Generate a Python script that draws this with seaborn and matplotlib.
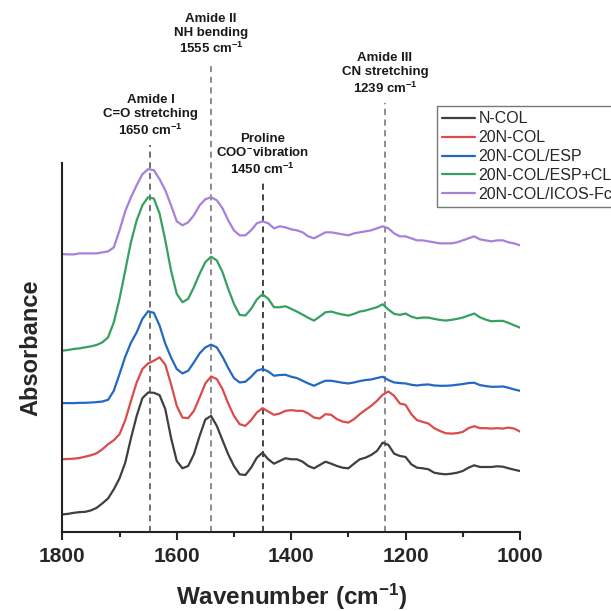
import numpy as np
import pandas as pd
import matplotlib
matplotlib.use("Agg")
import matplotlib.pyplot as plt
import seaborn as sns

# --- DATA (a.u. with stacking offsets) ---
wavenumber = list(range(1800, 990, -10))

n_col = [0.177, 0.183, 0.193, 0.200, 0.203, 0.217, 0.243, 0.287, 0.337, 0.427,
         0.537, 0.693, 0.937, 1.160, 1.337, 1.393, 1.390, 1.367, 1.227, 0.943,
         0.710, 0.637, 0.660, 0.777, 0.960, 1.123, 1.160, 1.060, 0.917, 0.777,
         0.660, 0.577, 0.570, 0.643, 0.743, 0.793, 0.727, 0.683, 0.710, 0.737,
         0.727, 0.727, 0.703, 0.660, 0.637, 0.670, 0.703, 0.683, 0.660, 0.643,
         0.637, 0.683, 0.727, 0.743, 0.770, 0.810, 0.893, 0.870, 0.783, 0.760,
         0.750, 0.677, 0.643, 0.637, 0.627, 0.593, 0.583, 0.577, 0.583, 0.593,
         0.610, 0.643, 0.667, 0.650, 0.650, 0.650, 0.657, 0.653, 0.637, 0.623,
         0.610]

col_20n = [0.727, 0.730, 0.733, 0.740, 0.753, 0.767, 0.787, 0.827, 0.877, 0.917,
           0.977, 1.117, 1.310, 1.493, 1.627, 1.683, 1.710, 1.743, 1.670, 1.477,
           1.260, 1.143, 1.137, 1.210, 1.343, 1.483, 1.553, 1.527, 1.427, 1.283,
           1.160, 1.077, 1.060, 1.117, 1.193, 1.237, 1.203, 1.170, 1.183, 1.210,
           1.217, 1.210, 1.210, 1.183, 1.143, 1.133, 1.177, 1.170, 1.127, 1.103,
           1.093, 1.127, 1.177, 1.220, 1.260, 1.310, 1.370, 1.403, 1.360, 1.283,
           1.270, 1.177, 1.117, 1.100, 1.083, 1.037, 1.010, 0.987, 0.983, 0.987,
           1.000, 1.037, 1.057, 1.037, 1.037, 1.033, 1.037, 1.033, 1.043, 1.033,
           1.003]

col_esp = [1.287, 1.287, 1.287, 1.290, 1.290, 1.293, 1.297, 1.303, 1.320, 1.410,
           1.577, 1.750, 1.890, 1.993, 2.127, 2.203, 2.187, 2.060, 1.880, 1.743,
           1.627, 1.583, 1.610, 1.693, 1.783, 1.843, 1.870, 1.843, 1.750, 1.637,
           1.537, 1.493, 1.500, 1.550, 1.610, 1.627, 1.603, 1.560, 1.567, 1.570,
           1.550, 1.537, 1.510, 1.483, 1.460, 1.487, 1.510, 1.510, 1.500, 1.490,
           1.483, 1.493, 1.507, 1.517, 1.523, 1.537, 1.550, 1.517, 1.493, 1.487,
           1.483, 1.470, 1.463, 1.470, 1.473, 1.463, 1.460, 1.460, 1.463, 1.470,
           1.477, 1.487, 1.490, 1.467, 1.457, 1.450, 1.450, 1.453, 1.440, 1.423,
           1.410]

col_esp_cl = [1.810, 1.817, 1.827, 1.833, 1.843, 1.853, 1.867, 1.893, 1.943, 2.093,
              2.327, 2.610, 2.893, 3.110, 3.260, 3.340, 3.327, 3.177, 2.910, 2.610,
              2.377, 2.293, 2.327, 2.443, 2.577, 2.693, 2.747, 2.710, 2.593, 2.427,
              2.277, 2.167, 2.160, 2.227, 2.320, 2.373, 2.327, 2.243, 2.243, 2.253,
              2.227, 2.200, 2.170, 2.137, 2.110, 2.150, 2.193, 2.200, 2.183, 2.170,
              2.160, 2.177, 2.200, 2.210, 2.227, 2.243, 2.273, 2.220, 2.177, 2.167,
              2.180, 2.150, 2.133, 2.140, 2.140, 2.127, 2.117, 2.110, 2.117, 2.127,
              2.140, 2.160, 2.180, 2.143, 2.120, 2.103, 2.107, 2.107, 2.087, 2.063,
              2.040]

col_icos = [2.773, 2.770, 2.770, 2.780, 2.780, 2.780, 2.780, 2.790, 2.800, 2.840,
            3.010, 3.200, 3.340, 3.460, 3.570, 3.620, 3.610, 3.520, 3.410, 3.260,
            3.100, 3.060, 3.090, 3.160, 3.260, 3.320, 3.340, 3.310, 3.230, 3.110,
            3.010, 2.960, 2.960, 3.010, 3.080, 3.100, 3.080, 3.030, 3.050, 3.040,
            3.020, 3.010, 2.990, 2.950, 2.930, 2.960, 2.990, 2.990, 2.980, 2.970,
            2.960, 2.980, 2.990, 3.000, 3.010, 3.030, 3.050, 3.030, 2.980, 2.950,
            2.950, 2.930, 2.910, 2.910, 2.900, 2.890, 2.880, 2.880, 2.880, 2.890,
            2.910, 2.930, 2.950, 2.920, 2.910, 2.900, 2.910, 2.910, 2.890, 2.880,
            2.860]

samples = ["N-COL", "20N-COL", "20N-COL/ESP", "20N-COL/ESP+CL", "20N-COL/ICOS-Fc"]
colors = ["#3f3f3f", "#dc4a4a", "#2468c4", "#35a060", "#a97fdc"]

# band annotations: position, label, top of the dashed line, text centre height
band_pos = [1646, 1540, 1450, 1236]
band_text = ["Amide I\nC=O stretching\n1650 cm$^{-1}$",
             "Amide II\nNH bending\n1555 cm$^{-1}$",
             "Proline\nCOO$^{-}$vibration\n1450 cm$^{-1}$",
             "Amide III\nCN stretching\n1239 cm$^{-1}$"]
band_line_top = [3.86, 4.66, 3.48, 4.28]
band_text_y = [4.15, 4.96, 3.76, 4.57]
band_line_color = ["#4a4a4a", "#6e6e6e", "#111111", "#6e6e6e"]

# --- BUILD LONG TABLE ---
series = [n_col, col_20n, col_esp, col_esp_cl, col_icos]
frames = []
for name, vals in zip(samples, series):
    frames.append(pd.DataFrame({"Wavenumber": wavenumber, "Absorbance": vals, "Sample": name}))
df = pd.concat(frames, ignore_index=True)

# --- PLOT ---
sns.set_style("ticks")
plt.rcParams["font.family"] = ["Liberation Sans", "DejaVu Sans"]
plt.rcParams["mathtext.fontset"] = "custom"
plt.rcParams["mathtext.rm"] = "Liberation Sans"
plt.rcParams["mathtext.bf"] = "Liberation Sans:bold"
plt.rcParams["mathtext.default"] = "bf"

fig = plt.figure(figsize=(6.11, 6.11), dpi=100)
ax = fig.add_axes([0.102, 0.129, 0.749, 0.604])

sns.lineplot(data=df, x="Wavenumber", y="Absorbance", hue="Sample",
             hue_order=samples, palette=colors, linewidth=1.6,
             estimator=None, ax=ax)

for pos, txt, top, ty, c in zip(band_pos, band_text, band_line_top, band_text_y, band_line_color):
    ax.plot([pos, pos], [0, top], color=c, lw=1.1, ls=(0, (4, 3)), clip_on=False, zorder=1)
    ax.text(pos, ty, txt, ha="center", va="center", fontsize=9.5, fontweight="bold",
            linespacing=1.2, color="#1a1a1a", clip_on=False)

ax.set_xlim(1800, 1000)
ax.set_ylim(0, 3.68)
ax.set_xticks([1800, 1600, 1400, 1200, 1000])
ax.set_xticks([1700, 1500, 1300, 1100], minor=True)
ax.set_yticks([])
ax.tick_params(axis="x", which="major", length=6, width=1.5, labelsize=15, pad=5)
ax.tick_params(axis="x", which="minor", length=3.5, width=1.5)
for lbl in ax.get_xticklabels():
    lbl.set_fontweight("bold")
sns.despine(ax=ax)
for side in ["left", "bottom"]:
    ax.spines[side].set_linewidth(1.5)
    ax.spines[side].set_color("#222222")

ax.set_xlabel("Wavenumber (cm$^{-1}$)", fontsize=17.5, fontweight="bold", labelpad=11)
ax.set_ylabel("Absorbance", fontsize=17, fontweight="bold", labelpad=14)

handles, labels = ax.get_legend_handles_labels()
ax.get_legend().remove()
fig.legend(handles, labels, loc="upper left", bbox_to_anchor=(0.7152, 0.826),
           borderaxespad=0, fontsize=11.5, frameon=True, fancybox=False,
           edgecolor="#777777", framealpha=1, handlelength=2.1, handletextpad=0.2,
           labelspacing=0.25, borderpad=0.3)

plt.savefig("out.png", dpi=100)
